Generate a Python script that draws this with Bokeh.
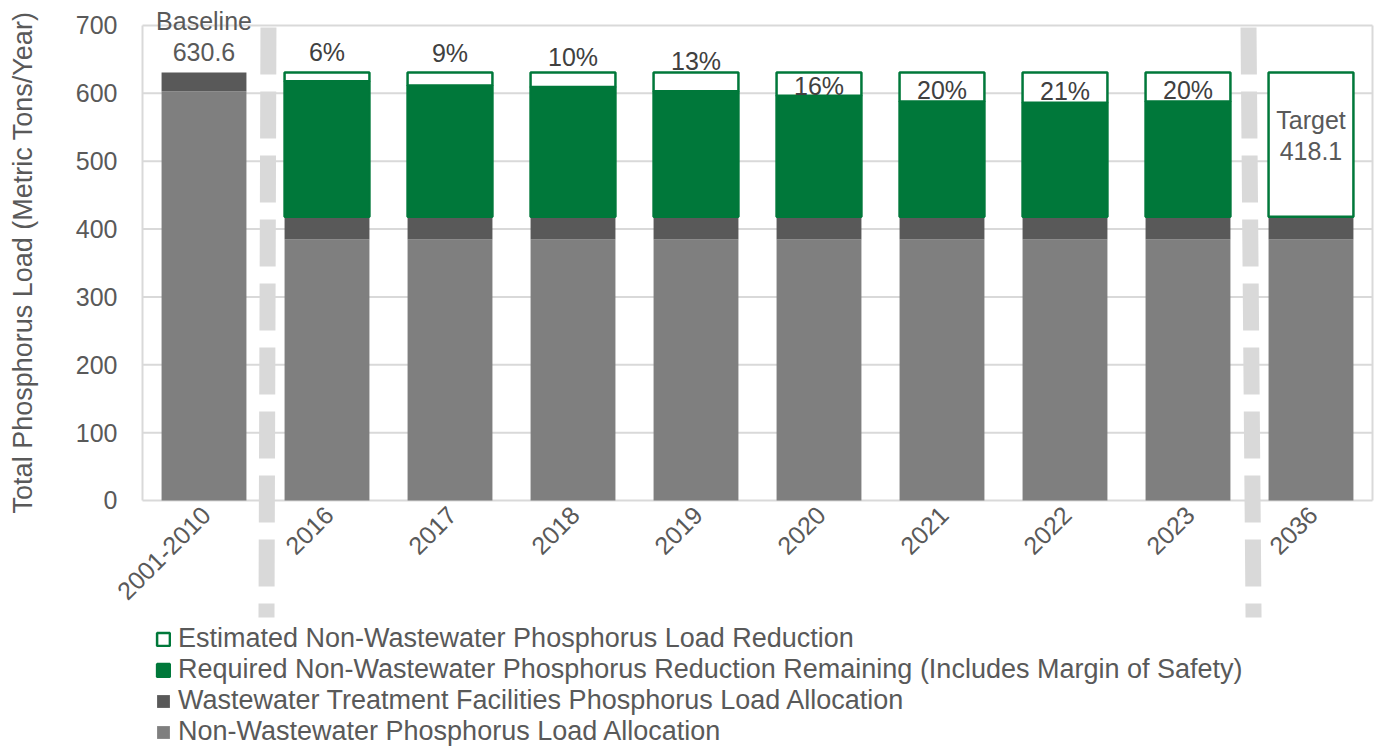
import numpy as np
from bokeh.plotting import figure
from bokeh.models import (ColumnDataSource, Range1d, FixedTicker, Legend, LegendItem, Label)
from bokeh.core.properties import value
from bokeh.embed import file_html
from bokeh.resources import INLINE

# ---------------- data ----------------
categories = ["2001-2010", "2016", "2017", "2018", "2019", "2020", "2021", "2022", "2023", "2036"]
non_wastewater_allocation = [603.0, 384.6, 384.6, 384.6, 384.6, 384.6, 384.6, 384.6, 384.6, 384.6]
wastewater_allocation = [27.6, 33.5, 33.5, 33.5, 33.5, 33.5, 33.5, 33.5, 33.5, 33.5]
required_remaining = [np.nan, 199.7, 193.4, 191.2, 184.9, 178.5, 170.0, 167.9, 170.0, 0.0]
estimated_reduction = [np.nan, 12.8, 19.1, 21.3, 27.6, 34.0, 42.5, 44.6, 42.5, 212.5]
bar_labels = ["Baseline\n630.6", "6%", "9%", "10%", "13%", "16%", "20%", "21%", "20%", "Target\n418.1"]
y_ticks = [0, 100, 200, 300, 400, 500, 600, 700]
series_names = [
    "Estimated Non-Wastewater Phosphorus Load Reduction",
    "Required Non-Wastewater Phosphorus Reduction Remaining (Includes Margin of Safety)",
    "Wastewater Treatment Facilities Phosphorus Load Allocation",
    "Non-Wastewater Phosphorus Load Allocation",
]
y_title = "Total Phosphorus Load (Metric Tons/Year)"

# ---------------- styling / placement ----------------
label_dy = [-36, -21, -20, -16, -12, 13, 17, 18, 17, 63]          # px offsets of value labels
label_colors = ["#595959"] + ["#404040"] * 8 + ["#595959"]
sep_x_top = [1.024, 8.992]       # dashed separators (category-slot units)
sep_x_bottom = [1.008, 9.033]
sep_y_top, sep_y_bottom = 697.0, -172.4

FONT = value("Liberation Sans")
GREEN = "#00783A"
GRID = "#D9D9D9"
TXT = "#595959"

# ---------------- stacking ----------------
x_pos = np.arange(len(categories)) + 0.5
nonww = np.array(non_wastewater_allocation, dtype=float)
ww = np.array(wastewater_allocation, dtype=float)
req = np.array(required_remaining, dtype=float)
est = np.array(estimated_reduction, dtype=float)
ww_top = nonww + ww
green_top = ww_top + req
white_bottom = ww_top + np.nan_to_num(req)
white_top = white_bottom + est
label_y = np.where(np.isnan(white_top), ww_top, white_top)

src = ColumnDataSource(dict(
    x=x_pos, cat=categories, nonww_top=nonww, ww_top=ww_top, green_top=green_top,
    white_bottom=white_bottom, white_top=white_top, label=bar_labels,
    label_y=label_y, label_dy=label_dy, label_color=label_colors,
))

p = figure(
    x_range=Range1d(-1.1545, 10.0407),
    y_range=Range1d(-364.0, 736.84),
    width=1377, height=747,
    min_border_left=0, min_border_right=0, min_border_top=0, min_border_bottom=0,
    output_backend="svg", toolbar_location=None,
)
p.outline_line_color = None
p.xaxis.visible = False
p.xgrid.visible = False
p.ygrid.visible = False

ax = p.yaxis[0]
ax.fixed_location = 0
ax.ticker = FixedTicker(ticks=y_ticks)
ax.bounds = (0, 700)
ax.axis_line_color = GRID
ax.axis_line_width = 2
ax.major_tick_line_color = None
ax.minor_tick_line_color = None
ax.major_tick_out = 0
ax.major_tick_in = 0
ax.major_label_standoff = 25
ax.major_label_text_font = "Liberation Sans"
ax.major_label_text_font_size = "25px"
ax.major_label_text_color = TXT

# horizontal grid lines and right frame border
p.segment(x0=0, x1=len(categories), y0=y_ticks, y1=y_ticks, line_color=GRID, line_width=2)
p.segment(x0=[len(categories)], y0=[0], x1=[len(categories)], y1=[700],
          line_color=GRID, line_width=2)

W = 0.69
r_nonww = p.vbar(x="x", width=W, bottom=0, top="nonww_top", source=src,
                 fill_color="#7F7F7F", line_color=None)
r_ww = p.vbar(x="x", width=W, bottom="nonww_top", top="ww_top", source=src,
              fill_color="#595959", line_color=None)
r_green = p.vbar(x="x", width=W, bottom="ww_top", top="green_top", source=src,
                 fill_color=GREEN, line_color=GREEN, line_width=2.5)
r_white = p.vbar(x="x", width=W, bottom="white_bottom", top="white_top", source=src,
                 fill_color="white", line_color=GREEN, line_width=2.5)

# dashed separators
p.segment(x0=sep_x_top, y0=[sep_y_top] * 2, x1=sep_x_bottom, y1=[sep_y_bottom] * 2,
          line_color=GRID, line_width=16, line_dash="47 17")

# value labels
p.text(x="x", y="label_y", text="label", y_offset="label_dy", source=src,
       text_font=FONT, text_font_size=value("25px"), text_color="label_color",
       text_align="center", text_baseline="middle", text_line_height=1.12)

# category labels (rotated)
p.text(x="x", y=0, text="cat", source=src, angle=np.pi / 4,
       x_offset=2, y_offset=10, text_font=FONT, text_font_size=value("25px"),
       text_color=TXT, text_align="right", text_baseline="middle")

# y-axis title
p.add_layout(Label(x=-0.9756, y=350.7, x_units="data", y_units="data", text=y_title,
                   angle=np.pi / 2, text_align="center", text_baseline="middle",
                   text_font="Liberation Sans", text_font_size="27px", text_color=TXT))

legend = Legend(
    items=[LegendItem(label=series_names[0], renderers=[r_white]),
           LegendItem(label=series_names[1], renderers=[r_green]),
           LegendItem(label=series_names[2], renderers=[r_ww]),
           LegendItem(label=series_names[3], renderers=[r_nonww])],
    location=(155, 0), orientation="vertical", margin=0, padding=0, spacing=0,
    border_line_color=None, background_fill_alpha=0,
    glyph_width=16, glyph_height=16, label_standoff=7, label_height=29,
    label_text_font="Liberation Sans", label_text_font_size="27px",
    label_text_color=TXT,
)
p.add_layout(legend, "center")

open("out.html", "w").write(file_html(p, INLINE))
